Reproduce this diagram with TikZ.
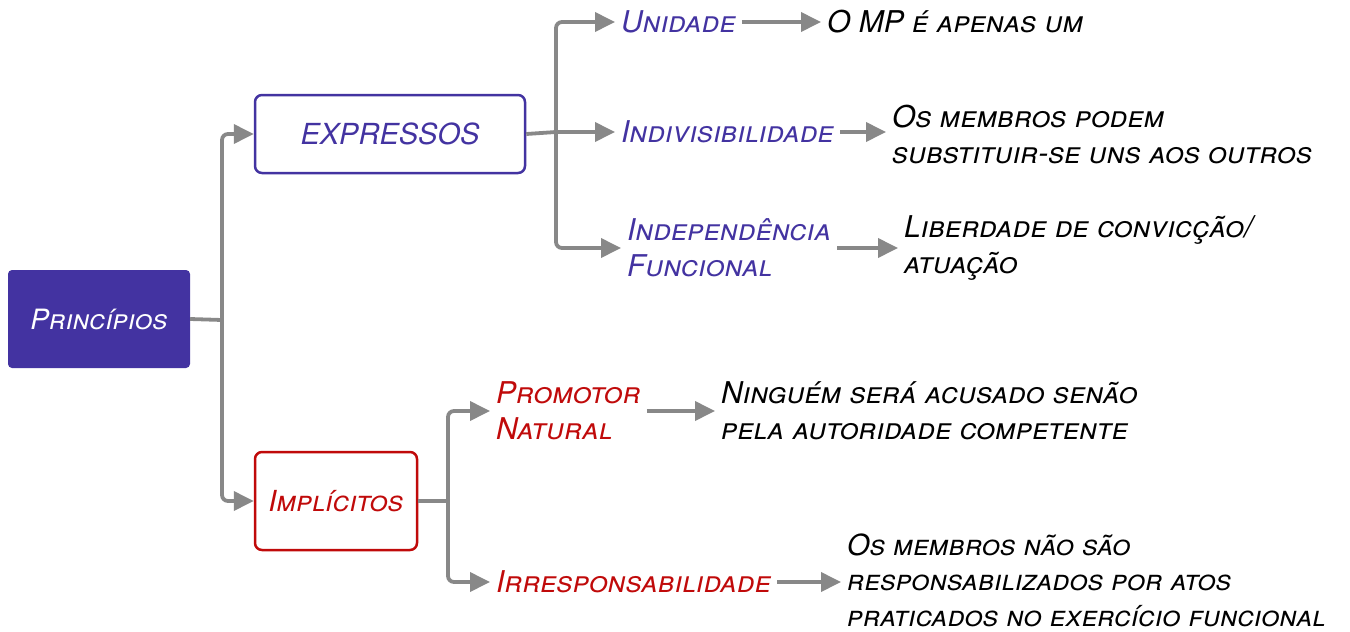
\documentclass[tikz,border=0pt]{standalone}
\usepackage{fontspec}
\setmainfont{TeX Gyre Heros}
\usetikzlibrary{arrows.meta}
\definecolor{purp}{HTML}{4333A1}
\definecolor{redc}{HTML}{C00A0A}
\definecolor{conn}{HTML}{888888}
\tikzset{
  lbl/.style={font=\fontsize{30}{36}\selectfont\itshape\scshape, align=left, inner sep=6pt},
  pl/.style={lbl, text=purp},
  rl/.style={lbl, text=redc},
  bl/.style={lbl, text=black},
  arr/.style={draw=conn, line width=3.8pt, rounded corners=6pt, -{Triangle[length=20pt,width=19pt]}},
  ln/.style={draw=conn, line width=3.8pt, rounded corners=6pt},
  boxp/.style={draw=purp, line width=2.5pt, rounded corners=7pt, fill=white},
  boxr/.style={draw=redc, line width=2.5pt, rounded corners=7pt, fill=white},
}
\begin{document}
\begin{tikzpicture}[x=1pt,y=-1pt]
\useasboundingbox (0,0) rectangle (1350,632);
% main boxes
\node[fill=purp, rounded corners=4pt, minimum width=182pt, minimum height=98pt, font=\fontsize{28}{36}\selectfont\itshape\scshape, text=white, inner sep=0pt] (prin) at (99,319) {Princípios};
\node[boxp, minimum width=270pt, minimum height=78pt, font=\fontsize{29}{36}\selectfont\itshape, text=purp] (expr) at (390,134) {EXPRESSOS};
\node[boxr, minimum width=162pt, minimum height=98pt, font=\fontsize{29}{36}\selectfont\itshape\scshape, text=redc] (impl) at (336,501) {Implícitos};
% trunk coordinates
\coordinate (t1) at (222,320);
\coordinate (t2) at (556,132);
\coordinate (t3) at (448,501);
% second level
\node[pl, anchor=west] (uni) at (615,22) {Unidade};
\node[pl, anchor=west] (ind) at (615,132) {Indivisibilidade};
\node[pl, anchor=west] (inf) at (621,248) {Independência\\Funcional};
\node[rl, anchor=west] (pro) at (490,411) {Promotor\\Natural};
\node[rl, anchor=west] (irr) at (490,582) {Irresponsabilidade};
% third level
\node[bl, anchor=west] (d1) at (821,22) {O MP é apenas um};
\node[bl, anchor=west] (d2) at (886,134) {Os membros podem\\substituir-se uns aos outros};
\node[bl, anchor=west] (d3) at (898,248) {Liberdade de convicção/\\atuação};
\node[bl, anchor=west] (d4) at (715,411) {Ninguém será acusado senão\\pela autoridade competente};
\node[bl, anchor=west, font=\fontsize{29}{35.5}\selectfont\itshape\scshape] (d5) at (841,580) {Os membros não são\\responsabilizados por atos\\praticados no exercício funcional};
% connectors
\draw[ln] (prin.east) -- (t1);
\draw[arr] (t1) |- (expr.west);
\draw[arr] (t1) |- (impl.west);
\draw[ln] (expr.east) -- (t2);
\draw[arr] (t2) |- (uni.west);
\draw[arr] (t2) -- (ind.west);
\draw[arr] (t2) |- (inf.west);
\draw[ln] (impl.east) -- (t3);
\draw[arr] (t3) |- (pro.west);
\draw[arr] (t3) |- (irr.west);
\draw[arr] (uni.east) -- (d1.west);
\draw[arr] (ind.east) -- (d2.west |- ind.east);
\draw[arr] (inf.east) -- (d3.west);
\draw[arr] (pro.east) -- (d4.west);
\draw[arr] (irr.east) -- (d5.west |- irr.east);
\end{tikzpicture}
\end{document}
